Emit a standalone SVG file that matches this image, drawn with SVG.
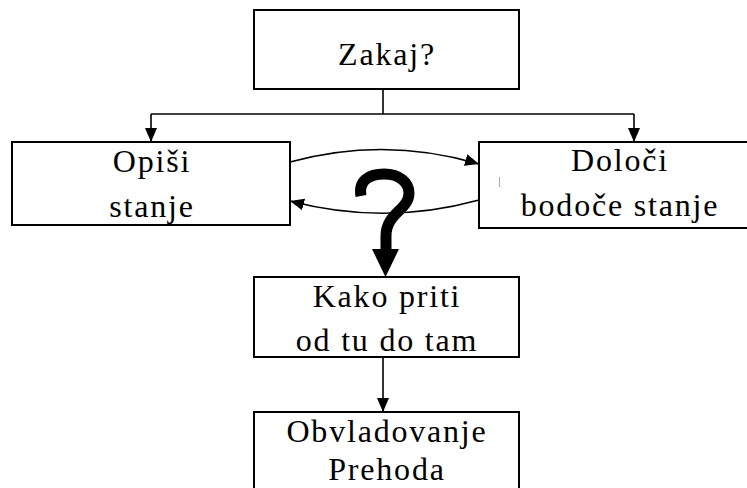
<svg xmlns="http://www.w3.org/2000/svg" width="747" height="488" viewBox="0 0 747 488">
<style>
.box{fill:#fff;stroke:#000;stroke-width:2}
.lbl{font-family:"Liberation Serif","Times New Roman",serif;font-size:32px;letter-spacing:1.8px;text-anchor:middle;fill:#000}
.con{fill:none;stroke:#000;stroke-width:1.6}
</style>
<defs>
<marker id="ah" markerUnits="userSpaceOnUse" markerWidth="14" markerHeight="14" viewBox="0 0 14 12" refX="14" refY="6" orient="auto">
<path d="M0,0 L14,6 L0,12 Z" fill="#000"/>
</marker>
</defs>
<g id="connectors">
<path class="con" d="M383,89 V114"/>
<path class="con" d="M151,114 H634"/>
<path class="con" d="M151,114 V142" marker-end="url(#ah)"/>
<path class="con" d="M634,114 V142" marker-end="url(#ah)"/>
<path class="con" d="M290,162 Q385,136 479,164" marker-end="url(#ah)"/>
<path class="con" d="M479,200 Q385,226 290,201" marker-end="url(#ah)"/>
<path class="con" d="M383,357 V412" marker-end="url(#ah)"/>
<g id="question">
<path d="M361,196 C358,180 370,174 384,174 C400,174 409,183 409,193 C409,210 386,213 386,236 L386,251" fill="none" stroke="#000" stroke-width="11"/>
<path d="M372,249 L399,249 L385.5,277 Z" fill="#000"/>
</g>
</g>
<g id="zakaj">
<rect class="box" x="254" y="10" width="265" height="79"/>
<text class="lbl" x="387" y="65">Zakaj?</text>
</g>
<g id="opisi">
<rect class="box" x="12" y="142" width="278" height="83"/>
<text class="lbl" x="152" y="172">Opiši</text>
<text class="lbl" x="152" y="217">stanje</text>
</g>
<g id="doloci">
<rect class="box" x="479" y="142" width="280" height="86"/>
<line x1="499.5" y1="177" x2="499.5" y2="187" stroke="#aaa" stroke-width="1"/>
<text class="lbl" x="620" y="171">Določi</text>
<text class="lbl" x="620" y="216">bodoče stanje</text>
</g>
<g id="kako">
<rect class="box" x="254" y="277" width="265" height="80"/>
<text class="lbl" x="387" y="307">Kako priti</text>
<text class="lbl" x="387" y="351">od tu do tam</text>
</g>
<g id="obvladovanje">
<rect class="box" x="254" y="412" width="265" height="90"/>
<text class="lbl" x="387" y="442">Obvladovanje</text>
<text class="lbl" x="387" y="480">Prehoda</text>
</g>
</svg>
